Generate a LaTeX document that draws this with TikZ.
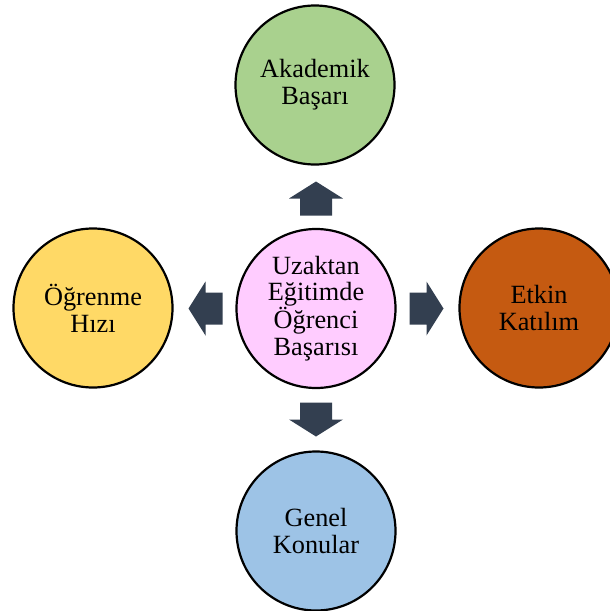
\documentclass[tikz,border=0pt]{standalone}
\usepackage{fontspec}
\setmainfont{Liberation Serif}
\definecolor{cgreen}{HTML}{A9D18E}
\definecolor{cpink}{HTML}{FFCCFF}
\definecolor{corange}{HTML}{C55A11}
\definecolor{cblue}{HTML}{9DC3E6}
\definecolor{cyellow}{HTML}{FFD966}
\definecolor{carrow}{HTML}{333F50}
\tikzset{
  topic/.style={circle, draw=black, line width=2.2pt, minimum size=159pt, inner sep=0pt,
    align=center, font=\fontsize{26.3}{26.8}\selectfont, text=black},
  blockarrow/.pic={\fill[carrow] (-17,-16) -- (0,-16) -- (0,-27) -- (17,0) -- (0,27) -- (0,16) -- (-17,16) -- cycle;}
}
\begin{document}
\begin{tikzpicture}[x=1pt,y=-1pt]
\useasboundingbox (0,0) rectangle (610,611);
\node[topic, fill=cpink] (c) at (316,308.5) {Uzaktan\\Eğitimde\\Öğrenci\\Başarısı};
\node[topic, fill=cgreen] (t) at (315,85) {Akademik\\Başarı};
\node[topic, fill=cblue] (b) at (316,531) {Genel\\Konular};
\node[topic, fill=cyellow] (l) at (93,308) {Öğrenme\\Hızı};
\node[topic, fill=corange] (r) at (539,308) {Etkin\\Katılım};
\pic[rotate=90] at (316,198.5) {blockarrow};
\pic[rotate=-90] at (316,419.5) {blockarrow};
\pic[rotate=180] at (205.5,308.5) {blockarrow};
\pic at (426.5,308.5) {blockarrow};
\end{tikzpicture}
\end{document}
